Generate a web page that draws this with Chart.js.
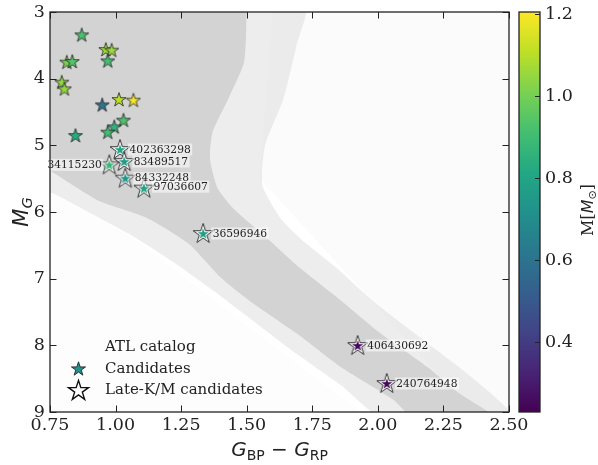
<!DOCTYPE html>
<html>
<head>
<meta charset="utf-8">
<title>CMD</title>
<script src="https://cdn.jsdelivr.net/npm/chart.js@4.4.0/dist/chart.umd.min.js"></script>
<style>
html, body { margin: 0; padding: 0; background: #fff; }
</style>
</head>
<body>
<canvas id="canvas" width="598" height="465"></canvas>
<script>
// candidates, coloured by mass
var candBpRp = [0.871, 0.963, 0.985, 0.970, 0.814, 0.835, 0.795, 0.805, 0.949, 1.013, 1.068, 1.030, 0.995, 0.970, 0.847];
var candMG   = [3.35, 3.57, 3.58, 3.74, 3.76, 3.75, 4.06, 4.16, 4.40, 4.32, 4.33, 4.63, 4.73, 4.81, 4.86];
var candMass = [0.92, 1.06, 1.06, 0.91, 1.01, 0.94, 1.04, 1.05, 0.60, 1.10, 1.19, 0.93, 0.86, 0.90, 0.83];

// late-K/M candidates
var lateIds  = ["402363298", "83489517", "34115230", "84332248", "97036607", "36596946", "406430692", "240764948"];
var lateBpRp = [1.017, 1.033, 0.976, 1.037, 1.108, 1.334, 1.923, 2.034];
var lateMG   = [5.07, 5.25, 5.30, 5.50, 5.65, 6.33, 8.01, 8.58];
var lateMass = [0.80, 0.76, 0.88, 0.74, 0.79, 0.77, 0.25, 0.25];

// ATL catalog density outlines (dense core, grainy fringe, sparse field)
var atlCoreBpRp = [0.70, 1.50, 1.50, 1.49, 1.43, 1.37, 1.36, 1.39, 1.45, 1.56, 1.70, 1.86, 2.01, 2.19, 2.31, 2.45,
                   2.14, 2.06, 1.86, 1.69, 1.51, 1.40, 1.28, 1.12, 0.94, 0.83, 0.75, 0.70];
var atlCoreMG   = [2.90, 2.90, 3.00, 3.75, 4.30, 4.80, 5.20, 5.65, 5.95, 6.33, 6.83, 7.33, 7.82, 8.33, 8.72, 9.10,
                   9.10, 8.82, 8.33, 7.82, 7.33, 6.98, 6.48, 6.09, 5.84, 5.58, 5.38, 5.30];
var atlFringeBpRp = [0.70, 1.72, 1.69, 1.64, 1.57, 1.56, 1.63, 1.72, 1.84, 1.98, 2.14, 2.31, 2.43, 2.52,
                     2.02, 1.86, 1.68, 1.53, 1.38, 1.22, 1.07, 0.92, 0.76, 0.70];
var atlFringeMG   = [2.90, 2.90, 3.50, 4.30, 5.00, 5.60, 6.10, 6.45, 6.83, 7.33, 7.82, 8.33, 8.72, 9.10,
                     9.10, 8.60, 8.10, 7.65, 7.20, 6.75, 6.37, 6.05, 5.72, 5.68];
var atlFieldBpRp = [1.60, 2.55, 2.55, 2.40, 1.90, 1.55];
var atlFieldMG   = [2.90, 2.90, 9.10, 9.10, 7.00, 5.50];
var atlLowBpRp = [0.70, 1.00, 1.40, 1.80, 1.95, 0.70];
var atlLowMG   = [5.60, 6.20, 7.40, 8.60, 9.10, 9.10];

var xTicks = [0.75, 1.00, 1.25, 1.50, 1.75, 2.00, 2.25, 2.50];
var yTicks = [3, 4, 5, 6, 7, 8, 9];
var massTicks = [0.4, 0.6, 0.8, 1.0, 1.2];
var massMin = 0.23, massMax = 1.205;

var viridisStops = ["#440154", "#482475", "#414487", "#355f8d", "#2a788e", "#21918c",
                    "#22a884", "#44bf70", "#7ad151", "#bddf26", "#fde725"];

function hexRgb(h) {
	return [parseInt(h.substr(1, 2), 16), parseInt(h.substr(3, 2), 16), parseInt(h.substr(5, 2), 16)];
}

function viridis(t) {
	t = Math.max(0, Math.min(1, t));
	var f = t * 10, i = Math.min(9, Math.floor(f)), u = f - i;
	var a = hexRgb(viridisStops[i]), b = hexRgb(viridisStops[i + 1]);
	return 'rgb(' + Math.round(a[0] + (b[0] - a[0]) * u) + ',' + Math.round(a[1] + (b[1] - a[1]) * u) + ','
			+ Math.round(a[2] + (b[2] - a[2]) * u) + ')';
}

function massColor(m) {
	return viridis((m - massMin) / (massMax - massMin));
}

function starPath(g, cx, cy, r) {
	var ri = r * 0.381966;
	g.beginPath();
	for (var i = 0; i < 10; i++) {
		var a = -Math.PI / 2 + i * Math.PI / 5;
		var rr = i % 2 ? ri : r;
		g.lineTo(cx + rr * Math.cos(a), cy + rr * Math.sin(a));
	}
	g.closePath();
}

function drawStar(g, cx, cy, r, fill, edge, lw) {
	starPath(g, cx, cy, r);
	if (fill) { g.fillStyle = fill; g.fill(); }
	if (edge) { g.lineWidth = lw; g.strokeStyle = edge; g.lineJoin = 'miter'; g.stroke(); }
}

// marker canvases used as point styles
function starIcon(r, fill, edge, lw, innerFill, innerR) {
	var s = Math.ceil(2 * r + lw + 4);
	var c = document.createElement('canvas');
	c.width = s; c.height = s;
	var g = c.getContext('2d');
	drawStar(g, s / 2, s / 2, r, fill, edge, lw);
	if (innerFill) drawStar(g, s / 2, s / 2, innerR, innerFill, null, 0);
	return c;
}

function zipXY(xs, ys) {
	return xs.map(function(x, i) { return { x : x, y : ys[i] }; });
}

function cloud(label, xs, ys, color, order) {
	return {
		type : 'line',
		label : label,
		data : zipXY(xs, ys),
		fill : 'shape',
		backgroundColor : color,
		borderWidth : 0,
		borderColor : 'rgba(0,0,0,0)',
		pointRadius : 0,
		tension : 0.2,
		order : order
	};
}

var serif = "'DejaVu Serif', serif";
var sans = "'DejaVu Sans', sans-serif";

// text runs with sub/superscripts, centred on (x, y) baseline
function drawRuns(g, runs, x, y, angle) {
	g.save();
	g.translate(x, y);
	g.rotate(angle || 0);
	var w = 0;
	runs.forEach(function(r) { g.font = r.font; w += g.measureText(r.t).width; });
	var cx = -w / 2;
	g.textBaseline = 'alphabetic';
	g.textAlign = 'left';
	g.fillStyle = '#222';
	runs.forEach(function(r) {
		g.font = r.font;
		g.fillText(r.t, cx, r.dy || 0);
		cx += g.measureText(r.t).width;
	});
	g.restore();
}

var decorPlugin = {
	id : 'decor',
	afterDatasetsDraw : function(chart) {
		var g = chart.ctx;
		var late = chart.getDatasetMeta(1);
		g.save();
		g.font = '10.7px ' + serif;
		g.textBaseline = 'middle';
		late.data.forEach(function(pt, i) {
			var txt = lateIds[i];
			var w = g.measureText(txt).width;
			var left = i === 2 ? pt.x - 7.5 - w : pt.x + 9.5;
			var cy = i === 4 ? pt.y - 2 : pt.y - 0.5;
			g.fillStyle = 'rgba(255,255,255,0.55)';
			g.fillRect(left - 1.5, cy - 6, w + 3, 12);
			g.fillStyle = '#222';
			g.textAlign = 'left';
			g.fillText(txt, left, cy + 0.5);
		});
		g.restore();
	},
	afterDraw : function(chart) {
		var g = chart.ctx, a = chart.chartArea;
		var xs = chart.scales.x, ys = chart.scales.y, ms = chart.scales.mass;
		g.save();

		// key
		var keyX = a.left + 55, keyY = a.bottom - 65;
		g.font = '15px ' + serif;
		g.fillStyle = '#222';
		g.textBaseline = 'middle';
		g.textAlign = 'left';
		[ 0, 1, 2 ].forEach(function(k) {
			var ds = chart.data.datasets[[ 2, 0, 1 ][k]];
			var ry = keyY + k * 21.7;
			if (k === 1) drawStar(g, a.left + 28.5, ry + 0.5, 7.4, massColor(0.72), '#222', 0.9);
			if (k === 2) drawStar(g, a.left + 28.5, ry + 0.5, 10.5, '#fff', '#111', 1.4);
			g.fillStyle = '#222';
			g.fillText(ds.label, keyX, ry);
		});

		// frame and inward ticks
		g.strokeStyle = '#222';
		g.lineWidth = 1;
		g.beginPath();
		xTicks.forEach(function(v) {
			var px = Math.round(xs.getPixelForValue(v)) + 0.5;
			g.moveTo(px, a.top); g.lineTo(px, a.top + 6.5);
			g.moveTo(px, a.bottom); g.lineTo(px, a.bottom - 6.5);
		});
		yTicks.forEach(function(v) {
			var py = Math.round(ys.getPixelForValue(v)) + 0.5;
			g.moveTo(a.left, py); g.lineTo(a.left + 6.5, py);
			g.moveTo(a.right, py); g.lineTo(a.right - 6.5, py);
		});
		g.stroke();
		g.lineWidth = 1.3;
		g.strokeRect(a.left, a.top, a.right - a.left, a.bottom - a.top);

		// colour bar
		var bx = a.right + 10, bw = 21;
		var bTop = ms.getPixelForValue(massMax), bBot = ms.getPixelForValue(massMin);
		var grad = g.createLinearGradient(0, bBot, 0, bTop);
		viridisStops.forEach(function(c, i) { grad.addColorStop(i / 10, c); });
		g.fillStyle = grad;
		g.fillRect(bx, bTop, bw, bBot - bTop);
		g.lineWidth = 1;
		g.beginPath();
		massTicks.forEach(function(v) {
			var py = Math.round(ms.getPixelForValue(v)) + 0.5;
			g.moveTo(bx + bw, py); g.lineTo(bx + bw - 5, py);
		});
		g.stroke();
		g.lineWidth = 1.3;
		g.strokeRect(bx, bTop, bw, bBot - bTop);

		// axis titles
		var midY = (a.top + a.bottom) / 2, midX = (a.left + a.right) / 2;
		drawRuns(g, [
			{ t : 'G', font : 'italic 20px ' + sans },
			{ t : 'BP', font : '14px ' + sans, dy : 4 },
			{ t : ' \u2212 ', font : '20px ' + sans },
			{ t : 'G', font : 'italic 20px ' + sans },
			{ t : 'RP', font : '14px ' + sans, dy : 4 }
		], midX, 456, 0);
		drawRuns(g, [
			{ t : 'M', font : 'italic 21px ' + sans },
			{ t : 'G', font : 'italic 14.5px ' + sans, dy : 4 }
		], 28, midY, -Math.PI / 2);
		drawRuns(g, [
			{ t : 'M[', font : '16px ' + serif },
			{ t : 'M', font : 'italic 16px ' + sans },
			{ t : '\u2299', font : '11px ' + sans, dy : 3 },
			{ t : ']', font : '16px ' + serif }
		], 593, midY - 2, -Math.PI / 2);

		g.restore();
	}
};

var tickFont = { family : "'DejaVu Serif', serif", size : 17.5 };

// fixed box sizes; tick padding must not push the plot area around
function fixBox(w, h) {
	return function(s) {
		if (w) s.width = w;
		if (h) s.height = h;
		s.paddingTop = 0; s.paddingBottom = 0; s.paddingLeft = 0; s.paddingRight = 0;
	};
}

window.onload = function() {
	var ctx = document.getElementById("canvas").getContext("2d");
	window.myChart = new Chart(ctx, {
		type : 'scatter',
		data : {
			datasets : [
					{
						label : 'Candidates',
						data : zipXY(candBpRp, candMG),
						pointStyle : candMass.map(function(m) { return starIcon(7.4, massColor(m), '#222', 0.8); }),
						pointRadius : 8,
						order : 0
					},
					{
						label : 'Late-K/M candidates',
						data : zipXY(lateBpRp, lateMG),
						pointStyle : lateMass.map(function(m) {
							return starIcon(10.5, '#fff', '#222', 0.9, massColor(m), 5.8);
						}),
						pointRadius : 11,
						order : 1
					},
					cloud('ATL catalog', atlCoreBpRp, atlCoreMG, 'rgb(211,211,211)', 5),
					cloud('', atlFringeBpRp, atlFringeMG, 'rgba(211,211,211,0.42)', 6),
					cloud('', atlFieldBpRp, atlFieldMG, 'rgba(211,211,211,0.09)', 7),
					cloud('', atlLowBpRp, atlLowMG, 'rgba(211,211,211,0.05)', 8) ]
		},
		options : {
			responsive : false,
			animation : false,
			devicePixelRatio : 1,
			events : [],
			layout : { padding : { top : 10, left : 0, right : 0, bottom : 0 } },
			plugins : { legend : { display : false }, tooltip : { enabled : false } },
			scales : {
				x : {
					type : 'linear',
					min : 0.75,
					max : 2.5,
					grid : { display : false, drawTicks : false },
					border : { display : false },
					ticks : { font : tickFont, color : '#222', padding : 3, maxRotation : 0, autoSkip : false,
						callback : function(v) { return v.toFixed(2); } },
					afterBuildTicks : function(s) { s.ticks = xTicks.map(function(v) { return { value : v }; }); },
					afterFit : fixBox(0, 53)
				},
				y : {
					type : 'linear',
					reverse : true,
					min : 3,
					max : 9,
					grid : { display : false, drawTicks : false },
					border : { display : false },
					ticks : { font : tickFont, color : '#222', padding : 5, autoSkip : false,
						callback : function(v) { return String(v); } },
					afterBuildTicks : function(s) { s.ticks = yTicks.map(function(v) { return { value : v }; }); },
					afterFit : fixBox(50, 0)
				},
				mass : {
					type : 'linear',
					position : 'right',
					min : massMin,
					max : massMax,
					grid : { display : false, drawTicks : false },
					border : { display : false },
					ticks : { font : tickFont, color : '#222', padding : 36, autoSkip : false,
						callback : function(v) { return v.toFixed(1); } },
					afterBuildTicks : function(s) { s.ticks = massTicks.map(function(v) { return { value : v }; }); },
					afterFit : fixBox(89, 0)
				}
			}
		},
		plugins : [ decorPlugin ]
	});
};
</script>
</body>
</html>
